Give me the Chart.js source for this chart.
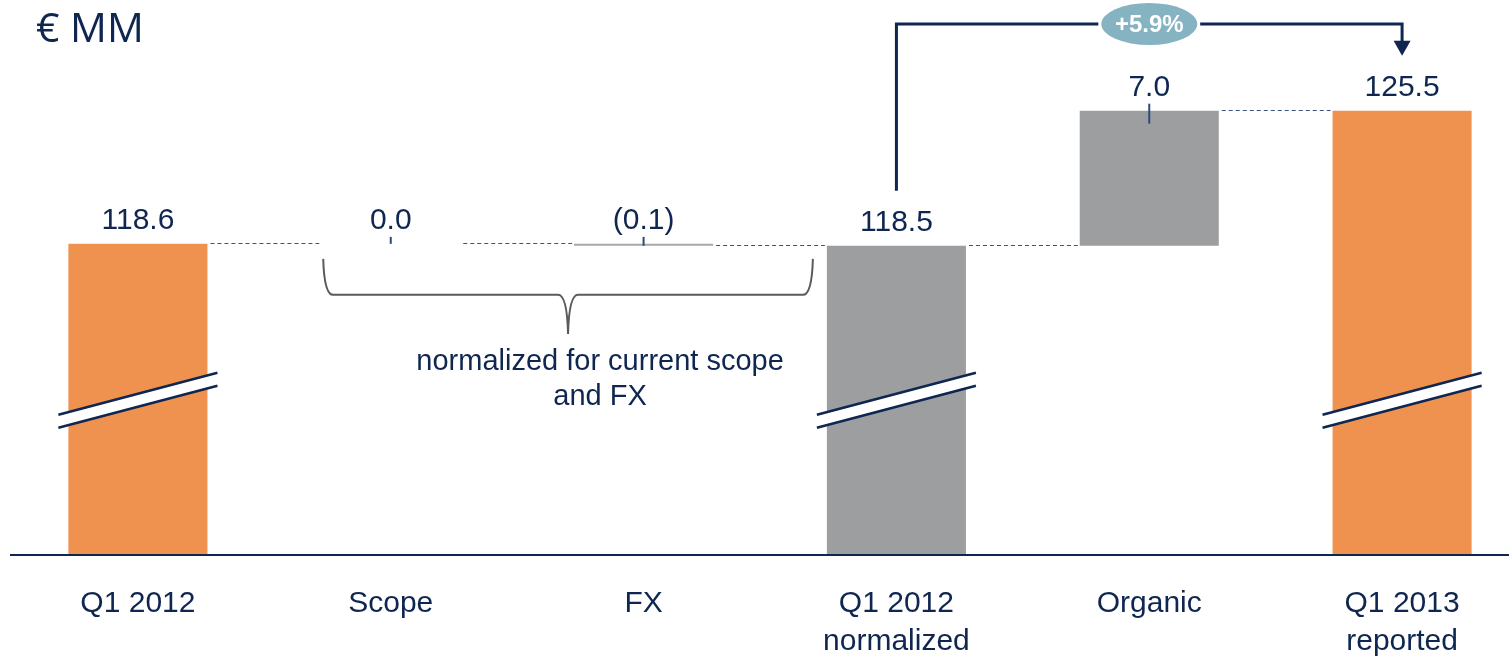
<!DOCTYPE html>
<html>
<head>
<meta charset="utf-8">
<script src="https://cdn.jsdelivr.net/npm/chart.js@4.4.1/dist/chart.umd.min.js"></script>
<style>
  html, body { margin: 0; padding: 0; background: #fff; overflow: hidden; }
  #wrap { width: 1530px; height: 659px; }
</style>
</head>
<body>
<div id="wrap"><canvas id="chart" width="1530" height="659"></canvas></div>
<script>
// Data
const categories = [['Q1 2012'], ['Scope'], ['FX'], ['Q1 2012', 'normalized'], ['Organic'], ['Q1 2013', 'reported']]
const values = [118.6, 0.0, -0.1, 118.5, 7.0, 125.5]
const isTotal = [true, false, false, true, false, true]
const growthLabel = '+5.9%'
const noteLines = ['normalized for current scope', 'and FX']
const unitLabel = '€ MM'

// Broken value axis: bars start at axisStart
const axisStart = 102.53
const axisEnd = 130.2
const breakValue = 110.5

const NAVY = '#0E2650'
const ORANGE = '#F0924F'
const GREY = '#9D9EA0'
const barColors = [ORANGE, GREY, '#A8A8A8', GREY, GREY, ORANGE]
const FONT = "'Liberation Sans', Arial, sans-serif"

// Floating ranges for the waterfall
let running = 0
const ranges = values.map((v, i) => {
  if (isTotal[i]) {
    running = v
    return [axisStart, v]
  }
  const r = [running, running + v]
  running += v
  return r
})

const fmt = (v) => v < 0 ? `(${Math.abs(v).toFixed(1)})` : v.toFixed(1)

const waterfallDecor = {
  id: 'waterfallDecor',
  afterDatasetsDraw(chart) {
    const ctx = chart.ctx
    const yScale = chart.scales.y
    const area = chart.chartArea
    const bars = chart.getDatasetMeta(0).data
    const topOf = (b) => Math.min(b.y, b.base)
    const bottomOf = (b) => Math.max(b.y, b.base)

    ctx.save()

    // axis line
    ctx.fillStyle = NAVY
    ctx.fillRect(10, area.bottom, chart.width, 2)

    // dashed connectors between bars
    ctx.strokeStyle = '#3A5482'
    ctx.lineWidth = 1
    ctx.setLineDash([4, 3])
    for (let i = 0; i < bars.length - 1; i++) {
      const a = bars[i]
      const b = bars[i + 1]
      const lvl = Math.round(yScale.getPixelForValue(ranges[i][1])) - 0.5
      ctx.beginPath()
      ctx.moveTo(a.x + a.width / 2 + 3, lvl)
      ctx.lineTo(b.x - b.width / 2 - 2, lvl)
      ctx.stroke()
    }
    ctx.setLineDash([])

    // axis break marks on total bars
    const yc = yScale.getPixelForValue(breakValue)
    bars.forEach((b, i) => {
      if (!isTotal[i]) return
      const x0 = b.x - b.width / 2 - 10
      const x1 = b.x + b.width / 2 + 10
      const rise = 21
      const half = 6.5
      ctx.fillStyle = '#ffffff'
      ctx.beginPath()
      ctx.moveTo(x0, yc + rise - half)
      ctx.lineTo(x1, yc - rise - half)
      ctx.lineTo(x1, yc - rise + half)
      ctx.lineTo(x0, yc + rise + half)
      ctx.closePath()
      ctx.fill()
      ctx.strokeStyle = NAVY
      ctx.lineWidth = 2.5
      ctx.beginPath()
      ctx.moveTo(x0, yc + rise - half)
      ctx.lineTo(x1, yc - rise - half)
      ctx.moveTo(x0, yc + rise + half)
      ctx.lineTo(x1, yc - rise + half)
      ctx.stroke()
    })

    // value labels and small ticks on delta bars
    ctx.fillStyle = NAVY
    ctx.textAlign = 'center'
    ctx.textBaseline = 'alphabetic'
    ctx.font = `30px ${FONT}`
    bars.forEach((b, i) => {
      const top = topOf(b)
      ctx.fillText(fmt(values[i]), b.x, top - 15)
      if (!isTotal[i]) {
        ctx.strokeStyle = '#2F4A78'
        ctx.lineWidth = 2
        ctx.beginPath()
        ctx.moveTo(b.x, top - 7)
        ctx.lineTo(b.x, Math.min(top + 13, bottomOf(b)))
        ctx.stroke()
      }
    })

    // curly brace under Scope / FX
    const scope = bars[1]
    const norm = bars[3]
    const bl = scope.x - scope.width / 2 + 2
    const br = norm.x - norm.width / 2 - 14
    const bmid = (bl + br) / 2
    const lvl0 = topOf(bars[0])
    const bTop = lvl0 + 15
    const bLine = lvl0 + 51
    const bDip = lvl0 + 90
    ctx.strokeStyle = '#5A5A5A'
    ctx.lineWidth = 2
    ctx.beginPath()
    ctx.moveTo(bl, bTop)
    ctx.quadraticCurveTo(bl + 1, bLine, bl + 10, bLine)
    ctx.lineTo(bmid - 10, bLine)
    ctx.quadraticCurveTo(bmid - 1, bLine, bmid, bDip)
    ctx.quadraticCurveTo(bmid + 1, bLine, bmid + 10, bLine)
    ctx.lineTo(br - 10, bLine)
    ctx.quadraticCurveTo(br - 1, bLine, br, bTop)
    ctx.stroke()

    ctx.fillStyle = NAVY
    ctx.font = `29px ${FONT}`
    ctx.textBaseline = 'middle'
    noteLines.forEach((t, k) => ctx.fillText(t, bmid + 32, bDip + 28 + k * 35))

    // growth bracket with arrow
    const last = bars[bars.length - 1]
    const startY = topOf(norm) - 55
    const tipY = topOf(last) - 55
    const railY = 24
    ctx.strokeStyle = NAVY
    ctx.lineWidth = 3
    ctx.beginPath()
    ctx.moveTo(norm.x, startY)
    ctx.lineTo(norm.x, railY)
    ctx.lineTo(last.x, railY)
    ctx.lineTo(last.x, tipY - 14)
    ctx.stroke()
    ctx.fillStyle = NAVY
    ctx.beginPath()
    ctx.moveTo(last.x - 8.5, tipY - 15)
    ctx.lineTo(last.x + 8.5, tipY - 15)
    ctx.lineTo(last.x, tipY)
    ctx.closePath()
    ctx.fill()

    // growth bubble
    const bx = bars[4].x
    ctx.beginPath()
    ctx.ellipse(bx, railY, 48, 21, 0, 0, Math.PI * 2)
    ctx.strokeStyle = '#ffffff'
    ctx.lineWidth = 6
    ctx.stroke()
    ctx.fillStyle = '#86B3C1'
    ctx.fill()
    ctx.fillStyle = '#ffffff'
    ctx.font = `bold 24px ${FONT}`
    ctx.textBaseline = 'middle'
    ctx.fillText(growthLabel, bx, railY + 1)

    // unit title
    ctx.fillStyle = NAVY
    ctx.textAlign = 'left'
    ctx.textBaseline = 'alphabetic'
    ctx.font = "41px 'Open Sans', 'DejaVu Sans', sans-serif"
    ctx.fillText(unitLabel, 36, 42)

    ctx.restore()
  }
}

new Chart(document.getElementById('chart').getContext('2d'), {
  type: 'bar',
  data: {
    labels: categories,
    datasets: [{
      data: ranges,
      backgroundColor: barColors,
      borderWidth: 0,
      barPercentage: 0.55,
      categoryPercentage: 1
    }]
  },
  options: {
    responsive: false,
    animation: false,
    devicePixelRatio: 1,
    layout: { padding: { left: 11.5, right: 1.5, top: 20, bottom: 0 } },
    plugins: { legend: { display: false }, tooltip: { enabled: false } },
    scales: {
      x: {
        grid: { display: false, drawTicks: false },
        border: { display: false },
        ticks: {
          color: NAVY,
          font: { family: FONT, size: 30, lineHeight: 1.25 },
          padding: 31,
          maxRotation: 0,
          autoSkip: false
        },
        afterFit(scale) { scale.height = 105 }
      },
      y: { display: false, min: axisStart, max: axisEnd }
    }
  },
  plugins: [waterfallDecor]
})
</script>
</body>
</html>
